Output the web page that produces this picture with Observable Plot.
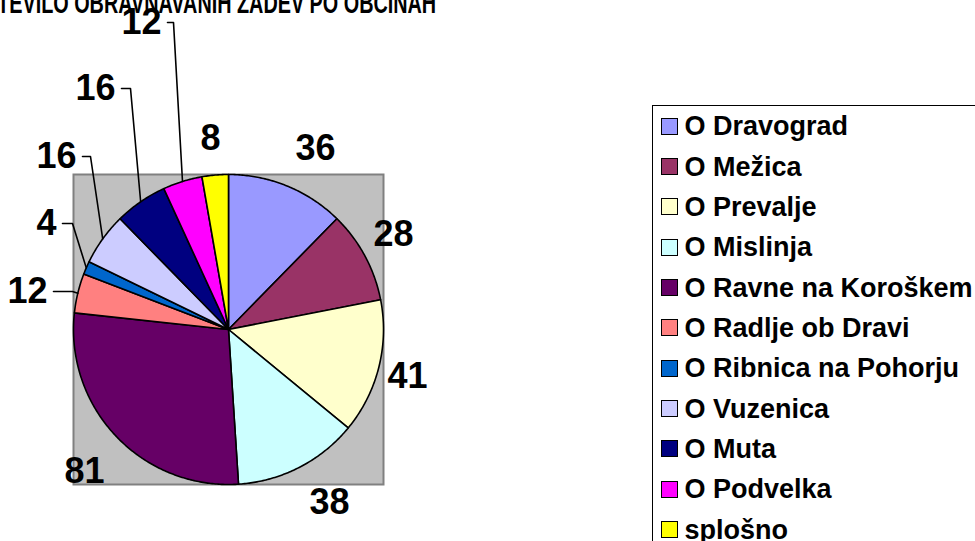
<!DOCTYPE html>
<html>
<head>
<meta charset="utf-8">
<script src="https://cdn.jsdelivr.net/npm/d3@7"></script>
<script src="https://cdn.jsdelivr.net/npm/@observablehq/plot@0.6"></script>
<style>
  html, body { margin: 0; padding: 0; background: white; overflow: hidden; }
  #wrap { position: relative; width: 975px; height: 541px; overflow: hidden; }
  #title { position: absolute; left: -16px; top: -12px; font: bold 30px "Liberation Sans", Arial, sans-serif; line-height: 30px; white-space: nowrap; transform: scaleX(0.66); transform-origin: left top; color: black; }
  #legend { position: absolute; left: 652px; top: 105px; width: 400px; height: 500px; border: 1.5px solid black; box-sizing: border-box; background: white; }
  .sw { position: absolute; width: 17px; height: 17px; border: 1.5px solid black; box-sizing: border-box; }
  .lt { position: absolute; font: bold 27px "Liberation Sans", Arial, sans-serif; line-height: 27px; white-space: nowrap; color: black; }
</style>
</head>
<body>
<div id="wrap">
  <div id="chart"></div>
  <div id="title">ŠTEVILO OBRAVNAVANIH ZADEV PO OBČINAH</div>
  <div id="legend"></div>
</div>
<script>
// ---- data ----
const names = ["O Dravograd", "O Mežica", "O Prevalje", "O Mislinja", "O Ravne na Koroškem", "O Radlje ob Dravi", "O Ribnica na Pohorju", "O Vuzenica", "O Muta", "O Podvelka", "splošno"];
const values = [36, 28, 41, 38, 81, 12, 4, 16, 16, 12, 8];
const colors = ["#9999FF", "#993366", "#FFFFCC", "#CCFFFF", "#660066", "#FF8080", "#0066CC", "#CCCCFF", "#000080", "#FF00FF", "#FFFF00"];

// ---- label layout (pixel offsets from pie centre, screen y down) ----
// plain labels: text centre; leader labels: start of leader line and elbow x
const labelPlain = { 0: [87, -181], 1: [165, -95], 2: [179, 47], 3: [101, 173], 4: [-144, 142], 10: [-18, -191] };
const labelLeader = { 5: [-175, -38, -156], 6: [-166, -106, -156], 7: [-146, -173, -138], 8: [-107, -241, -98], 9: [-61, -307, -55] };

const R = 155; // pie radius in px (maps domain 1)
const arcs = d3.pie().sort(null).value(d => d)(values);

const sliceRows = [];
arcs.forEach((a, i) => {
  const n = Math.max(2, Math.ceil((a.endAngle - a.startAngle) / 0.01));
  sliceRows.push({ name: names[i], x: 0, y: 0 });
  for (let k = 0; k <= n; k++) {
    const t = a.startAngle + (a.endAngle - a.startAngle) * k / n;
    sliceRows.push({ name: names[i], x: Math.sin(t), y: Math.cos(t) });
  }
  sliceRows.push({ name: names[i], x: 0, y: 0 });
});

const plainRows = [], leaderText = [], leaderRows = [];
arcs.forEach((a, i) => {
  const mid = (a.startAngle + a.endAngle) / 2;
  if (labelPlain[i]) {
    const [dx, dy] = labelPlain[i];
    plainRows.push({ x: dx / R, y: -dy / R, text: String(values[i]) });
  } else if (labelLeader[i]) {
    const [sx, sy, ex] = labelLeader[i];
    leaderText.push({ x: (sx - 6) / R, y: -sy / R, text: String(values[i]) });
    leaderRows.push({ name: names[i], x: sx / R, y: -sy / R });
    leaderRows.push({ name: names[i], x: ex / R, y: -sy / R });
    leaderRows.push({ name: names[i], x: Math.sin(mid), y: Math.cos(mid) });
  }
});

const chart = Plot.plot({
  width: 975,
  height: 541,
  marginLeft: 73,
  marginRight: 592,
  marginTop: 174,
  marginBottom: 57,
  x: { domain: [-1, 1], axis: null },
  y: { domain: [-1, 1], axis: null },
  color: { domain: names, range: colors },
  style: { overflow: "visible", fontFamily: "'Liberation Sans', Arial, sans-serif", background: "white" },
  marks: [
    Plot.frame({ fill: "#C0C0C0", stroke: "#808080", strokeWidth: 2 }),
    Plot.line(sliceRows, { x: "x", y: "y", z: "name", fill: "name", stroke: "black", strokeWidth: 1.6, strokeLinejoin: "round", curve: "linear" }),
    Plot.line(leaderRows, { x: "x", y: "y", z: "name", stroke: "black", strokeWidth: 1.6, curve: "linear" }),
    Plot.text(plainRows, { x: "x", y: "y", text: "text", fontSize: 36, fontWeight: "bold", fill: "black", textAnchor: "middle" }),
    Plot.text(leaderText, { x: "x", y: "y", text: "text", fontSize: 36, fontWeight: "bold", fill: "black", textAnchor: "end" })
  ]
});
document.getElementById("chart").appendChild(chart);

// ---- legend ----
const legend = document.getElementById("legend");
names.forEach((n, i) => {
  const cy = 126.5 + i * 40.35 - 105; // relative to legend box
  const sw = document.createElement("div");
  sw.className = "sw";
  sw.style.left = (661 - 652 - 1.5) + "px";
  sw.style.top = (cy - 8.5 - 1.5) + "px";
  sw.style.background = colors[i];
  legend.appendChild(sw);
  const t = document.createElement("div");
  t.className = "lt";
  t.style.left = (685 - 652 - 1.5) + "px";
  t.style.top = (cy - 12.8 - 1.5) + "px";
  t.textContent = n;
  legend.appendChild(t);
});
</script>
</body>
</html>
